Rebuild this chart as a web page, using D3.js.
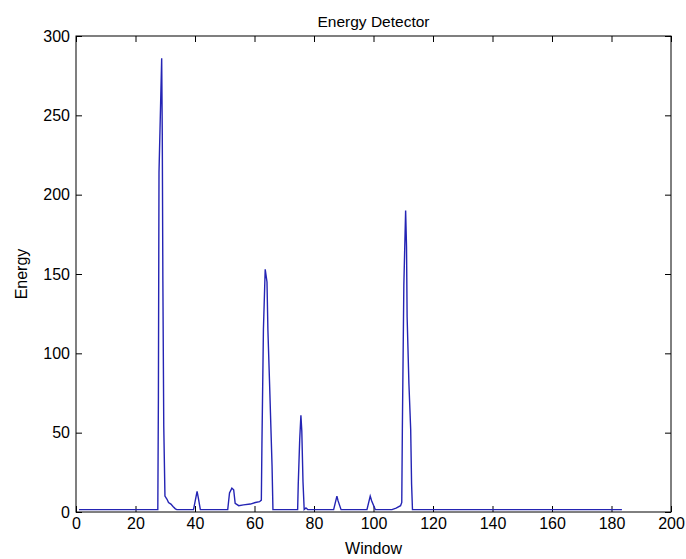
<!DOCTYPE html>
<html>
<head>
<meta charset="utf-8">
<script src="https://cdn.jsdelivr.net/npm/d3@7"></script>
<style>
  body { margin: 0; background: #fff; }
  svg { font-family: "Liberation Sans", Arial, sans-serif; }
  .axis path, .axis line { stroke: #000; }
  .axis text { font-size: 16px; fill: #000; }
</style>
</head>
<body>
<svg id="chart"></svg>
<script>
// data: window index and detector energy
const windows = [1, 27.5, 27.7, 27.9, 28.8, 29.0, 29.2, 29.5, 29.9, 30.6, 31.1, 31.9, 32.6, 33.4, 33.9,
  39.5, 40.7, 41.1, 41.8, 51.0, 51.6, 52.4, 53.0, 53.5, 54.7, 56.3, 58.6, 60.3, 61.7, 62.3,
  62.5, 63.0, 63.6, 64.2, 64.5, 65.1, 65.9, 66.2, 74.5, 74.7, 75.2, 75.6, 75.9, 76.3, 76.7,
  77.3, 77.9, 86.6, 87.7, 88.1, 89.1, 97.8, 98.9, 99.4, 100.6, 106.2, 107.6, 109.1, 109.5,
  109.7, 110.2, 110.8, 111.1, 111.3, 111.9, 112.5, 112.8, 113.1, 183.5];
const energy = [1.5, 1.5, 73, 214, 286, 238, 146, 54, 10, 8, 6, 5, 3.5, 2, 1.5,
  1.5, 13, 9, 1.5, 1.5, 12, 15, 14, 5.5, 4, 4.5, 5, 6, 6.5, 7.5,
  43, 115, 153, 145, 115, 79, 29, 1.5, 1.5, 17, 46, 61, 51, 19, 1.5,
  2.5, 1.5, 1.5, 10, 7, 1.5, 1.5, 10, 7, 1.5, 1.5, 2.5, 4, 6,
  52, 143, 190, 167, 123, 81, 52, 17.6, 1.5, 1.5];

const xTicks = d3.range(0, 201, 20);
const yTicks = d3.range(0, 301, 50);

const margin = {top: 36, bottom: 47, left: 76, right: 15};
const width = 686 - margin.left - margin.right;
const height = 559 - margin.top - margin.bottom;

const $svg = d3.select('#chart')
  .attr('width', 686)
  .attr('height', 559);

const scaleX = d3.scaleLinear().domain([0, 200]).range([0, width]);
const scaleY = d3.scaleLinear().domain([0, 300]).range([height, 0]);

const $vis = $svg.append('g')
  .attr('transform', 'translate(' + margin.left + ',' + margin.top + ')');

// frame
$vis.append('rect')
  .attr('width', width)
  .attr('height', height)
  .style('fill', 'none')
  .style('stroke', '#000');

// ticks: labelled bottom/left, mirrored top/right, all pointing inward
$vis.append('g')
  .attr('class', 'axis')
  .attr('transform', 'translate(0,' + height + ')')
  .call(d3.axisBottom(scaleX).tickValues(xTicks).tickSizeInner(-6).tickSizeOuter(0).tickPadding(6));

$vis.append('g')
  .attr('class', 'axis')
  .call(d3.axisTop(scaleX).tickValues(xTicks).tickSizeInner(-6).tickSizeOuter(0).tickFormat(''));

$vis.append('g')
  .attr('class', 'axis')
  .call(d3.axisLeft(scaleY).tickValues(yTicks).tickSizeInner(-6).tickSizeOuter(0).tickPadding(6));

$vis.append('g')
  .attr('class', 'axis')
  .attr('transform', 'translate(' + width + ',0)')
  .call(d3.axisRight(scaleY).tickValues(yTicks).tickSizeInner(-6).tickSizeOuter(0).tickFormat(''));

$vis.selectAll('.axis path').remove();

// energy curve
const line = d3.line()
  .x((d, i) => scaleX(windows[i]))
  .y(d => scaleY(d));

$vis.append('path')
  .datum(energy)
  .attr('d', line)
  .style('fill', 'none')
  .style('stroke', '#2424b4')
  .style('stroke-width', 1.4);

// titles
$svg.append('text')
  .attr('x', margin.left + width / 2)
  .attr('y', 27)
  .attr('text-anchor', 'middle')
  .style('font-size', '15.5px')
  .text('Energy Detector');

$svg.append('text')
  .attr('x', margin.left + width / 2)
  .attr('y', 554)
  .attr('text-anchor', 'middle')
  .style('font-size', '16px')
  .text('Window');

$svg.append('text')
  .attr('transform', 'translate(27,' + (margin.top + height / 2) + ') rotate(-90)')
  .attr('text-anchor', 'middle')
  .style('font-size', '16px')
  .text('Energy');
</script>
</body>
</html>
